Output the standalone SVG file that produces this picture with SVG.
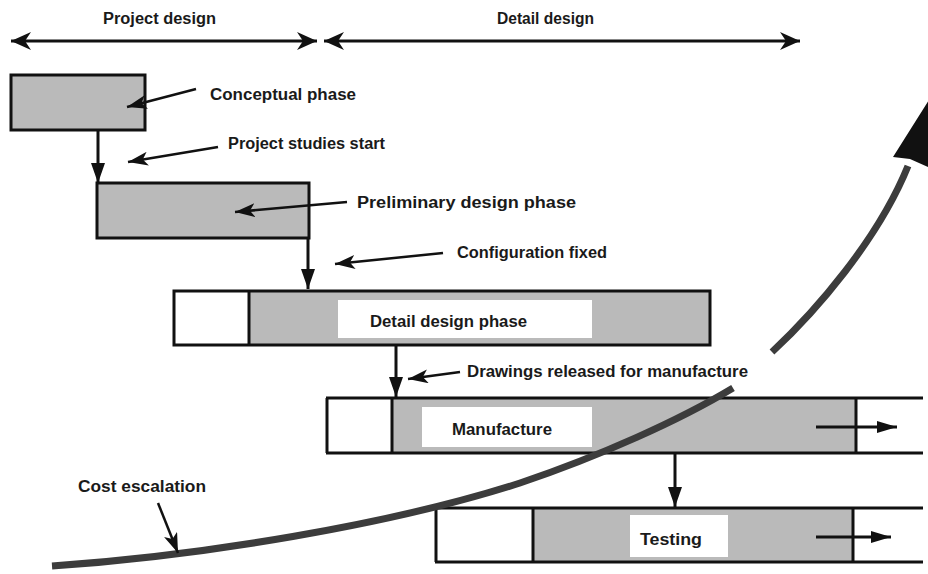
<svg xmlns="http://www.w3.org/2000/svg" width="928" height="574" viewBox="0 0 928 574">
<style>
text{font-family:"Liberation Sans",Arial,sans-serif;font-size:16px;font-weight:bold;fill:#1a1a1a}
.box{stroke:#111;stroke-width:3;fill:none}
.gray{fill:#bababa}
.white{fill:#fff}
.line{stroke:#111;stroke-width:3;fill:none}
.conn{stroke:#111;stroke-width:3;fill:none;marker-end:url(#tri)}
.harr{stroke:#111;stroke-width:3;fill:none;marker-end:url(#tri2)}
.ptr{stroke:#111;stroke-width:2.5;fill:none;marker-end:url(#ptrhead)}
.span{stroke:#111;stroke-width:3;fill:none;marker-start:url(#dbl);marker-end:url(#dbl)}
.cost{stroke:#3c3c3c;stroke-width:7;fill:none;stroke-linecap:butt}
</style>
<defs>
<marker id="tri" markerUnits="userSpaceOnUse" markerWidth="20" markerHeight="14" refX="20" refY="7" viewBox="0 0 20 14" orient="auto"><path d="M0,0 L20,7 L0,14 z" fill="#111"/></marker>
<marker id="tri2" markerUnits="userSpaceOnUse" markerWidth="20" markerHeight="12" refX="20" refY="6" viewBox="0 0 20 12" orient="auto"><path d="M0,0 L20,6 L0,12 z" fill="#111"/></marker>
<marker id="ptrhead" markerUnits="userSpaceOnUse" markerWidth="20" markerHeight="14" refX="20" refY="7" viewBox="0 0 20 14" orient="auto"><path d="M0,0 L20,7 L0,14 L5,7 z" fill="#111"/></marker>
<marker id="dbl" markerUnits="userSpaceOnUse" markerWidth="20" markerHeight="18" refX="20" refY="9" viewBox="0 0 20 18" orient="auto-start-reverse"><path d="M0,0 L20,9 L0,18 L6,9 z" fill="#111"/></marker>
</defs>

<g id="header">
<text x="103" y="24" textLength="113" lengthAdjust="spacingAndGlyphs">Project design</text>
<text x="497" y="24" textLength="97" lengthAdjust="spacingAndGlyphs">Detail design</text>
<line class="span" x1="11" y1="41" x2="317" y2="41"/>
<line class="span" x1="324" y1="41" x2="800" y2="41"/>
</g>

<g id="conceptual">
<rect class="gray" x="11" y="75" width="134" height="55"/>
<rect class="box" x="11" y="75" width="134" height="55"/>
</g>

<g id="preliminary">
<rect class="gray" x="97" y="183" width="212" height="55"/>
<rect class="box" x="97" y="183" width="212" height="55"/>
</g>

<g id="detail-design">
<rect class="white" x="174" y="291" width="536" height="54"/>
<rect class="gray" x="249" y="291" width="461" height="54"/>
<rect class="white" x="338" y="300" width="254" height="38"/>
<rect class="box" x="174" y="291" width="536" height="54"/>
<line class="line" x1="249" y1="291" x2="249" y2="345"/>
<text x="370" y="327" textLength="157" lengthAdjust="spacingAndGlyphs">Detail design phase</text>
</g>

<g id="manufacture">
<rect class="gray" x="392" y="398" width="464" height="55"/>
<rect class="white" x="422" y="407" width="170" height="40"/>
<line class="line" x1="326" y1="398" x2="923" y2="398"/>
<line class="line" x1="326" y1="453" x2="923" y2="453"/>
<line class="line" x1="327" y1="398" x2="327" y2="453"/>
<line class="line" x1="392" y1="398" x2="392" y2="453"/>
<line class="line" x1="856" y1="398" x2="856" y2="453"/>
<text x="452" y="435" textLength="100" lengthAdjust="spacingAndGlyphs">Manufacture</text>
<line class="harr" x1="816" y1="427" x2="897" y2="427"/>
</g>

<g id="testing">
<rect class="gray" x="533" y="508" width="320" height="55"/>
<rect class="white" x="630" y="515" width="98" height="42"/>
<line class="line" x1="435" y1="508" x2="923" y2="508"/>
<line class="line" x1="435" y1="562" x2="923" y2="562"/>
<line class="line" x1="436" y1="508" x2="436" y2="562"/>
<line class="line" x1="533" y1="508" x2="533" y2="562"/>
<line class="line" x1="853" y1="508" x2="853" y2="562"/>
<text x="640" y="545" textLength="62" lengthAdjust="spacingAndGlyphs">Testing</text>
<line class="harr" x1="816" y1="537" x2="891" y2="537"/>
</g>

<g id="connectors">
<line class="conn" x1="98" y1="130" x2="98" y2="183"/>
<line class="conn" x1="308" y1="238" x2="308" y2="289"/>
<line class="conn" x1="396" y1="345" x2="396" y2="397"/>
<line class="conn" x1="675" y1="453" x2="675" y2="507"/>
</g>

<g id="cost-curve">
<path class="cost" d="M52,566 C200,556 390,525 520,483 C600,456 680,420 733,388"/>
<path class="cost" d="M772,352 C815,312 878,240 908,166"/>
<polygon points="929,100 893,157 910,159 928,167" fill="#111"/>
</g>

<g id="annotations">
<text x="210" y="100" textLength="146" lengthAdjust="spacingAndGlyphs">Conceptual phase</text>
<line class="ptr" x1="196" y1="89" x2="127" y2="107"/>
<text x="228" y="149" textLength="157" lengthAdjust="spacingAndGlyphs">Project studies start</text>
<line class="ptr" x1="218" y1="147" x2="128" y2="162"/>
<text x="357" y="208" textLength="219" lengthAdjust="spacingAndGlyphs">Preliminary design phase</text>
<line class="ptr" x1="347" y1="202" x2="235" y2="212"/>
<text x="457" y="258" textLength="150" lengthAdjust="spacingAndGlyphs">Configuration fixed</text>
<line class="ptr" x1="443" y1="253" x2="335" y2="264"/>
<text x="467" y="377" textLength="281" lengthAdjust="spacingAndGlyphs">Drawings released for manufacture</text>
<line class="ptr" x1="460" y1="372" x2="408" y2="379"/>
<text x="78" y="492" textLength="128" lengthAdjust="spacingAndGlyphs">Cost  escalation</text>
<line class="ptr" x1="158" y1="503" x2="178" y2="553"/>
</g>
</svg>
